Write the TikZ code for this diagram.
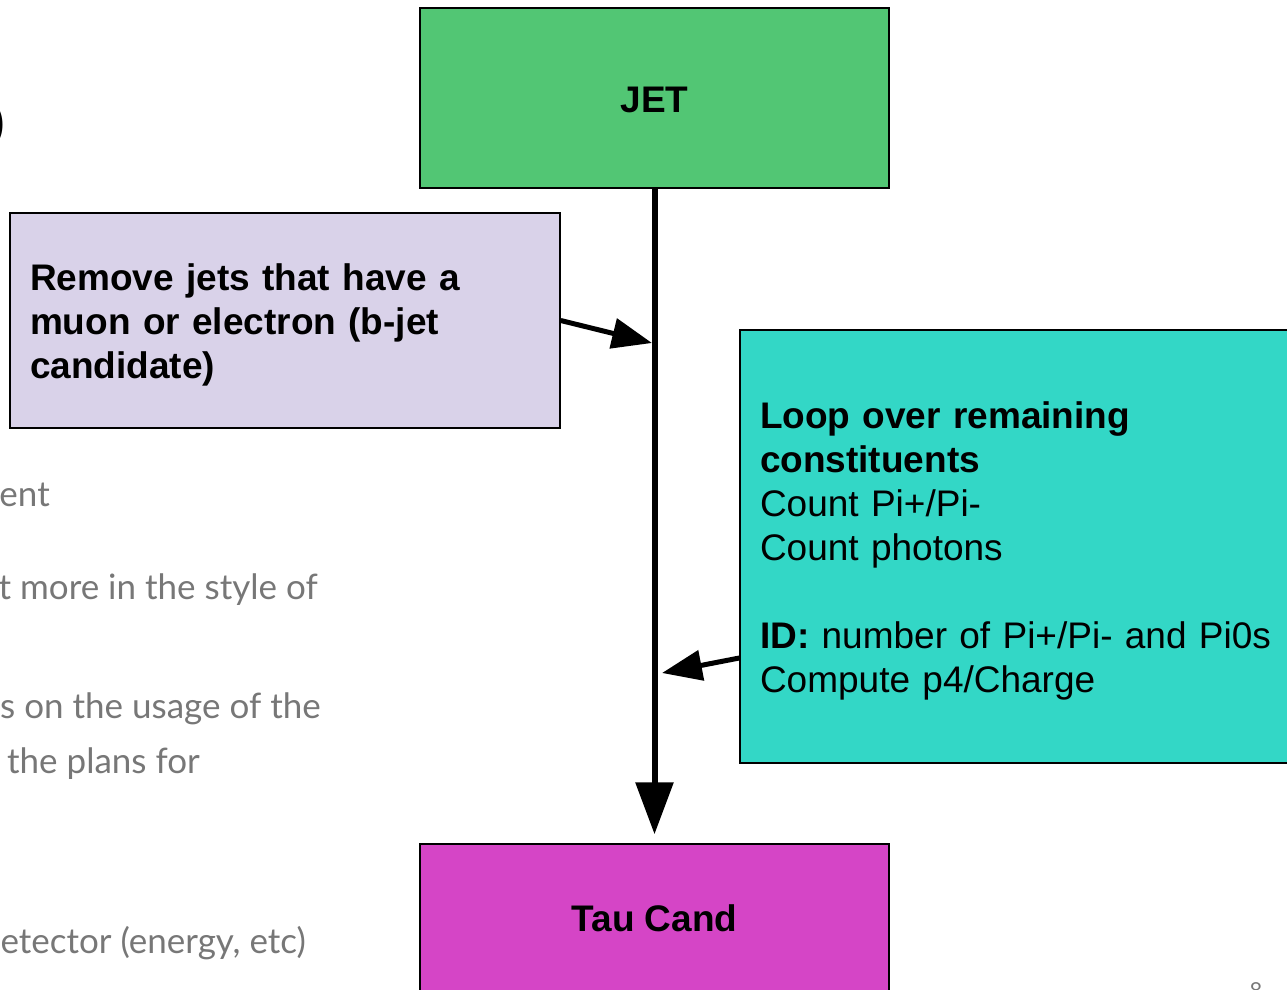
\documentclass[tikz,border=0pt]{standalone}
\usepackage{fontspec}
\setmainfont{Liberation Sans}
\newfontfamily\slidefont{Lato}
\usetikzlibrary{arrows.meta,positioning}
\definecolor{jetgreen}{HTML}{52C674}
\definecolor{cutlilac}{HTML}{D9D2E9}
\definecolor{loopteal}{HTML}{33D7C6}
\definecolor{taumagenta}{HTML}{D545C6}
\definecolor{slidegray}{HTML}{777777}

\tikzset{
  box/.style={draw=black, line width=1.5pt},
  boxtext/.style={font=\fontsize{37}{44}\selectfont, align=left, inner sep=0pt},
  flow/.style={line width=6pt, -{Triangle[width=37pt,length=52pt]}},
  side/.style={line width=5pt, -{Triangle[width=30pt,length=40pt]}},
  behind/.style={anchor=base east, text=slidegray, inner sep=0pt, font=\slidefont\fontsize{35}{40}\selectfont}
}

\begin{document}
\begin{tikzpicture}[x=1pt,y=-1pt]
\useasboundingbox (0,0) rectangle (1287,989);
\clip (0,0) rectangle (1287,989);

% text of the slide behind the diagram
\node[anchor=east, inner sep=0pt, font=\bfseries\fontsize{44}{50}\selectfont] (paren) at (5,125) {)};
\node[behind] (t1) at (50,506) {ent};
\node[behind] (t2) at (318,599) {t more in the style of};
\node[behind] (t3) at (321,718) {s on the usage of the};
\node[behind] (t4) at (200,773) {the plans for};
\node[behind] (t5) at (306,953) {etector (energy, etc)};
\node[anchor=north, text=slidegray, inner sep=0pt, font=\slidefont\fontsize{22}{26}\selectfont] (page) at (1256,982) {8};

% boxes
\node[box, fill=jetgreen, minimum width=469pt, minimum height=180pt] (jet) at (654.5,98) {};
\node[box, fill=cutlilac, minimum width=550pt, minimum height=215pt] (remove) at (285,320.5) {};
\node[box, fill=loopteal, minimum width=560pt, minimum height=433pt] (loop) at (1020,546.5) {};
\node[box, fill=taumagenta, minimum width=469pt, minimum height=186pt] (tau) at (654.5,937) {};

% box texts
\node[boxtext, font=\bfseries\fontsize{37}{44}\selectfont] (jetlabel) at (654.5,100) {JET};
\node[boxtext, text width=510pt, font=\bfseries\fontsize{37}{44}\selectfont] (removelabel) at (285,324.5)
  {Remove jets that have a\\ muon or electron (b-jet\\ candidate)};
\node[boxtext, text width=520pt] (looplabel) at (1020,550.5)
  {\textbf{Loop over remaining}\\ \textbf{constituents}\\ Count Pi+/Pi-\\ Count photons\\ ~\\
   \textbf{ID:} number of Pi+/Pi- and Pi0s\\ Compute p4/Charge};
\node[boxtext, font=\bfseries\fontsize{37}{44}\selectfont] (taulabel) at (654.5,918) {Tau Cand};

% arrows
\coordinate (hit1) at (652,343);
\coordinate (hit2) at (662,673);
\draw[flow, shorten >=9pt] (jet) to (tau);
\draw[side] (remove.east) to (hit1);
\draw[side] ([yshift=-111.5pt]loop.west) to (hit2);
\end{tikzpicture}
\end{document}
